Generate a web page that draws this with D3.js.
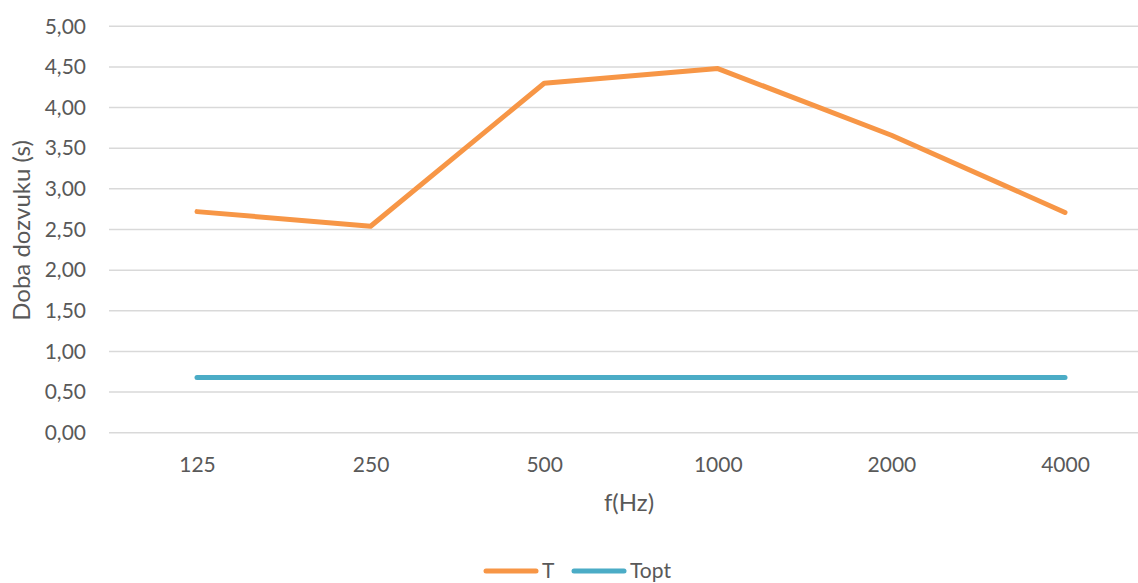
<!DOCTYPE html>
<html><head><meta charset="utf-8">
<script src="https://cdn.jsdelivr.net/npm/d3@7"></script>
<style>body{margin:0;background:#fff}svg{display:block}text{font-family:Lato,"Open Sans",sans-serif;fill:#595959}</style>
</head><body>
<svg id="c" width="1138" height="583"></svg>
<script>
const categories = ["125","250","500","1000","2000","4000"];
const T = [2.72, 2.54, 4.30, 4.48, 3.66, 2.71];
const Topt = [0.68, 0.68, 0.68, 0.68, 0.68, 0.68];
const yTicks = [0,0.5,1,1.5,2,2.5,3,3.5,4,4.5,5];
const seriesNames = ["T","Topt"];
const colors = ["#F79646","#4BACC6"];

const svg = d3.select("#c");
const x = d3.scalePoint().domain(categories).range([197, 1065]);
const y = d3.scaleLinear().domain([0,5]).range([432.7, 26.3]);
const fmt = v => d3.format(".2f")(v).replace(".", ",");

// gridlines
svg.append("g").selectAll("line").data(yTicks).join("line")
  .attr("x1", 109).attr("x2", 1152)
  .attr("y1", d => y(d)).attr("y2", d => y(d))
  .attr("stroke", "#d9d9d9").attr("stroke-width", 1.5);

// y axis labels
const yAxis = d3.axisLeft(y).tickValues(yTicks).tickFormat(fmt).tickSize(0).tickPadding(0);
const gy = svg.append("g").attr("transform", "translate(86,0)").call(yAxis);
gy.select(".domain").remove();
gy.selectAll("text").attr("font-size", 21).style("font-family","Lato").attr("fill","#595959");

// x axis labels
const xAxis = d3.axisBottom(x).tickSize(0).tickPadding(0);
const gx = svg.append("g").attr("transform", "translate(0,457)").call(xAxis);
gx.select(".domain").remove();
gx.selectAll("text").attr("font-size", 21).style("font-family","Lato").attr("fill","#595959");

// lines
const line = d3.line().x((d,i) => x(categories[i])).y(d => y(d));
[T, Topt].forEach((s, k) => {
  svg.append("path").datum(s).attr("d", line)
    .attr("fill", "none").attr("stroke", colors[k]).attr("stroke-width", 5)
    .attr("stroke-linecap", "round").attr("stroke-linejoin", "round");
});

// axis titles
svg.append("text").attr("x", 629).attr("y", 511).attr("text-anchor", "middle")
  .attr("font-size", 24).text("f(Hz)");
svg.append("text").attr("transform", "translate(30,230.5) rotate(-90)").attr("text-anchor", "middle")
  .attr("font-size", 24).text("Doba dozvuku (s)");

// legend
const leg = [{x1:486,x2:536,tx:542},{x1:574,x2:624,tx:630}];
seriesNames.forEach((n,k) => {
  svg.append("line").attr("x1", leg[k].x1).attr("x2", leg[k].x2).attr("y1", 571).attr("y2", 571)
    .attr("stroke", colors[k]).attr("stroke-width", 5).attr("stroke-linecap", "round");
  svg.append("text").attr("x", leg[k].tx).attr("y", 578).attr("font-size", 21).text(n);
});
</script>
</body></html>
